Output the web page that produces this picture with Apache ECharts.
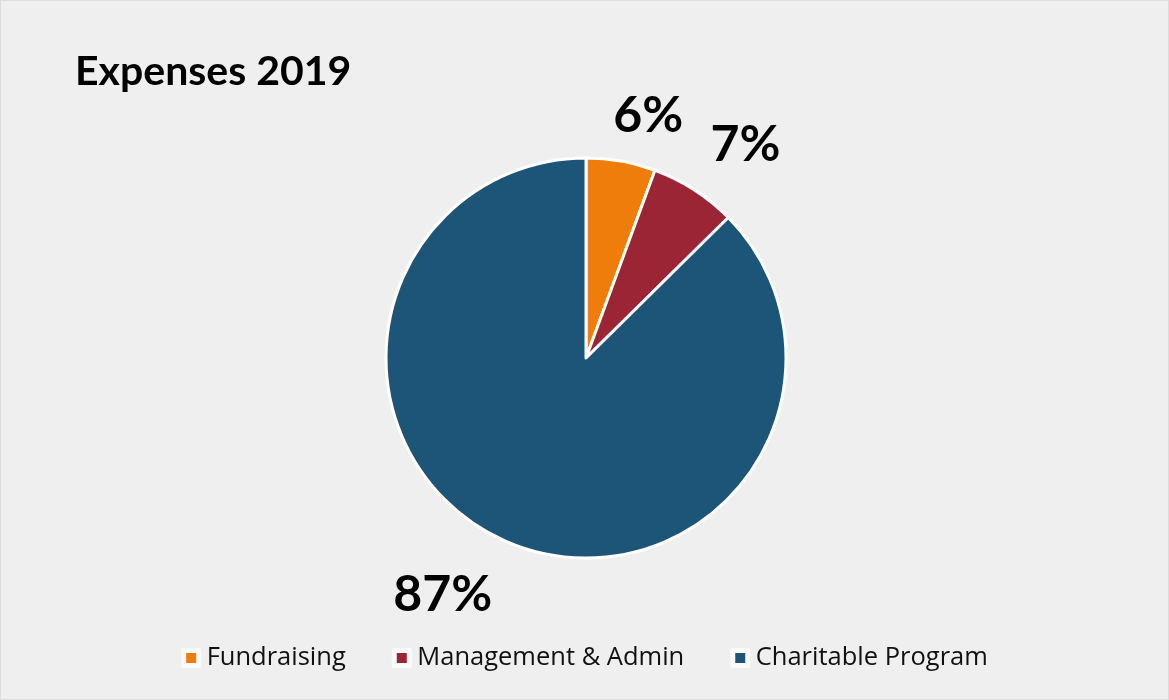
<!DOCTYPE html>
<html lang="en">
<head>
    <meta charset="UTF-8">
    <title>Expenses 2019</title>
    <script type="text/javascript" src="https://fastly.jsdelivr.net/npm/echarts@6.0.0/dist/echarts.min.js"></script>
    <style>
        html, body { margin: 0; padding: 0; background: #efefef; }
        #main { width: 1167px; height: 698px; border: 1px solid #dcdcdc; }
    </style>
</head>
<body>
<div id="main"></div>
<script type="text/javascript">
    var categories = ['Fundraising', 'Management & Admin', 'Charitable Program'];
    var values = [5.6, 7.0, 87.4];
    var colors = ['#ee7d0b', '#9c2535', '#1c5578'];

    var pieData = categories.map(function (name, i) {
        return { name: name, value: values[i] };
    });

    // nudges so the labels sit where the original put them
    var labelNudge = [[-18, -16], [-5, -20], [0, 25]];

    var myChart = echarts.init(document.getElementById('main'));

    option = {
        backgroundColor: '#efefef',
        color: colors,
        textStyle: { fontFamily: 'Lato' },
        title: {
            text: 'Expenses 2019',
            left: 69,
            top: 45,
            textStyle: {
                fontFamily: 'Lato',
                fontSize: 41,
                fontWeight: 'bold',
                color: '#000'
            }
        },
        legend: {
            bottom: 23,
            left: 'center',
            itemWidth: 15,
            itemHeight: 15,
            itemGap: 46,
            icon: 'rect',
            itemStyle: { borderColor: '#fafafa', borderWidth: 5 },
            textStyle: { fontFamily: 'Open Sans', fontSize: 25.5, color: '#111', padding: [0, 0, 0, 3] },
            data: categories
        },
        series: [{
            type: 'pie',
            center: [585, 357],
            radius: 200,
            startAngle: 90,
            clockwise: true,
            avoidLabelOverlap: false,
            itemStyle: { borderColor: '#fff', borderWidth: 3 },
            label: {
                show: true,
                position: 'outside',
                formatter: function (p) { return Math.round(p.percent) + '%'; },
                fontFamily: 'Lato',
                fontWeight: 'bold',
                fontSize: 50,
                color: '#000'
            },
            labelLine: { show: false, length: 30, length2: 0 },
            labelLayout: function (params) {
                var n = labelNudge[params.dataIndex];
                return { dx: n[0], dy: n[1] };
            },
            emphasis: { scale: false },
            data: pieData
        }]
    };

    myChart.setOption(option);
    window.onresize = function () { myChart.resize(); };
</script>
</body>
</html>
